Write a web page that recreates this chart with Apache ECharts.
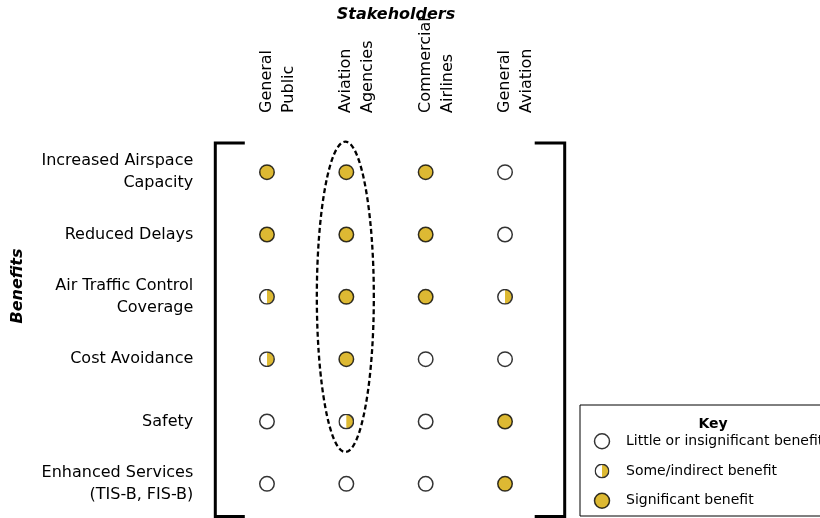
<!DOCTYPE html>
<html>
<head>
<meta charset="utf-8">
<script src="https://cdn.jsdelivr.net/npm/echarts@6/dist/echarts.min.js"></script>
<style>
  html, body { margin: 0; padding: 0; background: #fff; }
  #chart { width: 820px; height: 518px; }
</style>
</head>
<body>
<div id="chart"></div>
<script>
// ---- data ----
const stakeholders = ['General\nPublic', 'Aviation\nAgencies', 'Commercial\nAirlines', 'General\nAviation'];
const benefits = [
  'Increased Airspace\nCapacity',
  'Reduced Delays',
  'Air Traffic Control\nCoverage',
  'Cost Avoidance',
  'Safety',
  'Enhanced Services\n(TIS-B, FIS-B)'
];
const levels = ['Little or insignificant benefit', 'Some/indirect benefit', 'Significant benefit'];
// rating per benefit (top to bottom): 0 = little, 1 = some/indirect, 2 = significant
const generalPublic      = [2, 2, 1, 1, 0, 0];
const aviationAgencies   = [2, 2, 2, 2, 1, 0];
const commercialAirlines = [2, 2, 2, 0, 0, 0];
const generalAviation    = [0, 0, 1, 0, 2, 2];
const ratingsByStakeholder = [generalPublic, aviationAgencies, commercialAirlines, generalAviation];
const highlighted = 'Aviation\nAgencies';

(function () {
// ---- styles ----
const GOLD = '#D5A800';
const FONT = '"DejaVu Sans", "Liberation Sans", Arial, sans-serif';
const halfSvg = '<svg xmlns="http://www.w3.org/2000/svg" width="16" height="16" viewBox="0 0 16 16">' +
  '<circle cx="8" cy="8" r="7.25" fill="#ffffff"/>' +
  '<path d="M8 0.75A7.25 7.25 0 0 1 8 15.25Z" fill="' + GOLD + '"/>' +
  '<circle cx="8" cy="8" r="7.25" fill="none" stroke="#000000" stroke-width="1.5"/></svg>';
const HALF_IMG = 'image://data:image/svg+xml;charset=utf-8,' + encodeURIComponent(halfSvg);

const levelStyles = [
  { symbol: 'circle', symbolSize: 14.5, itemStyle: { color: '#ffffff', borderColor: '#000', borderWidth: 1.5 } },
  { symbol: HALF_IMG, symbolSize: 16, itemStyle: {} },
  { symbol: 'circle', symbolSize: 14.5, itemStyle: { color: GOLD, borderColor: '#000', borderWidth: 1.5 } }
];

function pointsFor(level) {
  const pts = [];
  ratingsByStakeholder.forEach((col, ci) => {
    col.forEach((r, bi) => {
      if (r === level) pts.push([stakeholders[ci], benefits[bi]]);
    });
  });
  return pts;
}

const series = levels.map((name, li) => ({
  name: name,
  type: 'scatter',
  symbol: levelStyles[li].symbol,
  symbolSize: levelStyles[li].symbolSize,
  itemStyle: levelStyles[li].itemStyle,
  data: pointsFor(li),
  silent: true,
  z: 5
}));

const chart = echarts.init(document.getElementById('chart'), null, { renderer: 'canvas' });

const GRID = { left: 227.3, right: 275.3, top: 141, bottom: 3 };

chart.setOption({
  animation: false,
  backgroundColor: '#ffffff',
  textStyle: { fontFamily: FONT },
  grid: GRID,
  xAxis: {
    type: 'category',
    position: 'top',
    data: stakeholders,
    axisLine: { show: false },
    axisTick: { show: false },
    splitLine: { show: false },
    axisLabel: {
      interval: 0,
      rotate: -90,
      align: 'left',
      verticalAlign: 'middle',
      margin: 28,
      fontSize: 16,
      lineHeight: 22,
      color: '#000',
      fontFamily: FONT,
      formatter: v => '\n' + v
    }
  },
  yAxis: {
    type: 'category',
    inverse: true,
    data: benefits,
    offset: 12,
    axisLine: { show: false },
    axisTick: { show: false },
    splitLine: { show: false },
    axisLabel: {
      interval: 0,
      margin: 22,
      fontSize: 16,
      lineHeight: 22,
      color: '#000',
      fontFamily: FONT,
      align: 'right'
    }
  },
  legend: {
    orient: 'vertical',
    left: 580,
    top: 405,
    height: 300,
    padding: [28, 0, 7, 10],
    itemWidth: 24,
    itemHeight: 15,
    itemGap: 14,
    borderColor: '#000',
    borderWidth: 1,
    selectedMode: false,
    textStyle: { fontSize: 14, color: '#000', fontFamily: FONT, lineHeight: 15, padding: [0, 0, 0, 7] },
    data: [
      { name: levels[0], icon: 'circle', itemStyle: { color: '#fff', borderColor: '#000', borderWidth: 1.5 } },
      { name: levels[1], icon: HALF_IMG },
      { name: levels[2], icon: 'circle', itemStyle: { color: GOLD, borderColor: '#000', borderWidth: 1.5 } }
    ]
  },
  series: series
});

// ---- annotations: brackets, dashed ellipse, titles ----
const pTop = chart.convertToPixel({ gridIndex: 0 }, [highlighted, benefits[0]]);
const pBot = chart.convertToPixel({ gridIndex: 0 }, [highlighted, benefits[4]]);
const cx = pTop[0];
const cy = (pTop[1] + pBot[1]) / 2;
const ry = (pBot[1] - pTop[1]) / 2 + 30.5;

const bx1 = GRID.left - 12;          // left bracket line
const bx2 = 820 - GRID.right + 20;   // right bracket line
const yTop = 143, yBot = 516.5;

chart.setOption({
  graphic: [
    {
      type: 'polyline', silent: true, z: 10,
      shape: { points: [[bx1 + 29.5, yTop], [bx1, yTop], [bx1, yBot], [bx1 + 29.5, yBot]] },
      style: { stroke: '#000', lineWidth: 3, fill: null, lineJoin: 'miter' }
    },
    {
      type: 'polyline', silent: true, z: 10,
      shape: { points: [[bx2 - 30, yTop], [bx2, yTop], [bx2, yBot], [bx2 - 30, yBot]] },
      style: { stroke: '#000', lineWidth: 3, fill: null, lineJoin: 'miter' }
    },
    {
      type: 'ellipse', silent: true, z: 4,
      shape: { cx: cx - 1, cy: cy, rx: 28.5, ry: ry },
      style: { stroke: '#000', lineWidth: 2.3, fill: null, lineDash: [5, 3] }
    },
    {
      type: 'text', silent: true, z: 10,
      x: 396, y: 15,
      style: {
        text: 'Stakeholders', fill: '#000',
        font: 'italic bold 16px ' + FONT,
        align: 'center', verticalAlign: 'middle'
      }
    },
    {
      type: 'text', silent: true, z: 10,
      x: 18, y: 286, rotation: Math.PI / 2,
      style: {
        text: 'Benefits', fill: '#000',
        font: 'italic bold 16px ' + FONT,
        align: 'center', verticalAlign: 'middle'
      }
    },
    {
      type: 'text', silent: true, z: 10,
      x: 713, y: 424,
      style: {
        text: 'Key', fill: '#000',
        font: 'bold 14px ' + FONT,
        align: 'center', verticalAlign: 'middle'
      }
    }
  ]
});
})();
</script>
</body>
</html>
